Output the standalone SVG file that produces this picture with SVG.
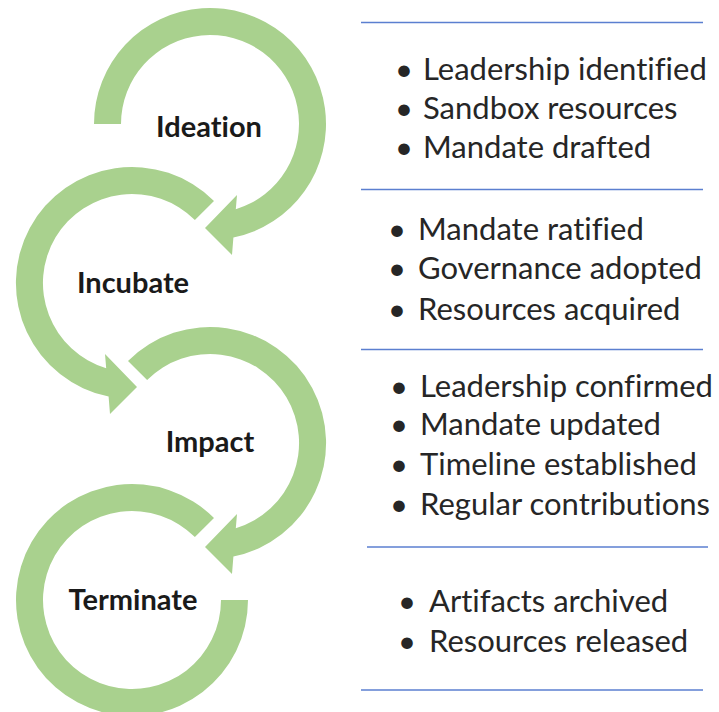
<svg xmlns="http://www.w3.org/2000/svg" width="719" height="712" viewBox="0 0 719 712">
<style>
.arc{fill:#A9D18E}
.lbl{font-family:Lato,"Liberation Sans",sans-serif;font-weight:bold;font-size:29px;fill:#1a1a1a;text-anchor:middle;font-variant-ligatures:none}
.bl{font-family:Lato,"Liberation Sans",sans-serif;font-size:31px;fill:#262626;font-variant-ligatures:none}
.sep{stroke:#5B7FD0;stroke-width:1.6}
</style>
<rect width="719" height="712" fill="#fff"/>
<g id="connectors">
<path id="arc-ideation" class="arc" d="M 94 124 A 116 116 0 1 1 233.4 237.6 L 232 255 L 205 228 L 237 195 L 235.8 209.2 A 89 89 0 1 0 121 124 Z"/>
<path id="arc-incubate" class="arc" d="M 214 201 A 116 116 0 1 0 108.6 396.6 L 110 414 L 137 387 L 105 354 L 106.2 368.2 A 89 89 0 1 1 194.9 220.1 Z"/>
<path id="arc-impact" class="arc" d="M 128 361 A 116 116 0 1 1 233.4 556.6 L 232 574 L 205 547 L 237 514 L 235.8 528.2 A 89 89 0 1 0 147.1 380.1 Z"/>
<path id="arc-terminate" class="arc" d="M 214 518 A 116 116 0 1 0 248 600 L 221 600 A 89 89 0 1 1 194.9 537.1 Z"/>
</g>
<g id="node-ideation"><text class="lbl" x="209" y="137">Ideation</text></g>
<g id="node-incubate"><text class="lbl" x="133" y="293">Incubate</text></g>
<g id="node-impact"><text class="lbl" x="210" y="452">Impact</text></g>
<g id="node-terminate"><text class="lbl" x="133" y="610">Terminate</text></g>
<g id="separators">
<line class="sep" x1="361" y1="22.5" x2="703" y2="22.5"/>
<line class="sep" x1="361" y1="189.5" x2="703" y2="189.5"/>
<line class="sep" x1="361" y1="349.5" x2="703" y2="349.5"/>
<line class="sep" x1="367" y1="547" x2="708" y2="547"/>
<line class="sep" x1="361" y1="690" x2="703" y2="690"/>
</g>
<g id="list-ideation" class="bl">
<text x="395" y="80">•<tspan x="423">Leadership identified</tspan></text>
<text x="395" y="119">•<tspan x="423">Sandbox resources</tspan></text>
<text x="395" y="158">•<tspan x="423">Mandate drafted</tspan></text>
</g>
<g id="list-incubate" class="bl">
<text x="388" y="240">•<tspan x="418">Mandate ratified</tspan></text>
<text x="388" y="279">•<tspan x="418">Governance adopted</tspan></text>
<text x="388" y="320">•<tspan x="418">Resources acquired</tspan></text>
</g>
<g id="list-impact" class="bl">
<text x="390" y="397">•<tspan x="420">Leadership confirmed</tspan></text>
<text x="390" y="435">•<tspan x="420">Mandate updated</tspan></text>
<text x="390" y="475">•<tspan x="420">Timeline established</tspan></text>
<text x="390" y="515">•<tspan x="420">Regular contributions</tspan></text>
</g>
<g id="list-terminate" class="bl">
<text x="398" y="612">•<tspan x="429">Artifacts archived</tspan></text>
<text x="398" y="652">•<tspan x="429">Resources released</tspan></text>
</g>
</svg>
